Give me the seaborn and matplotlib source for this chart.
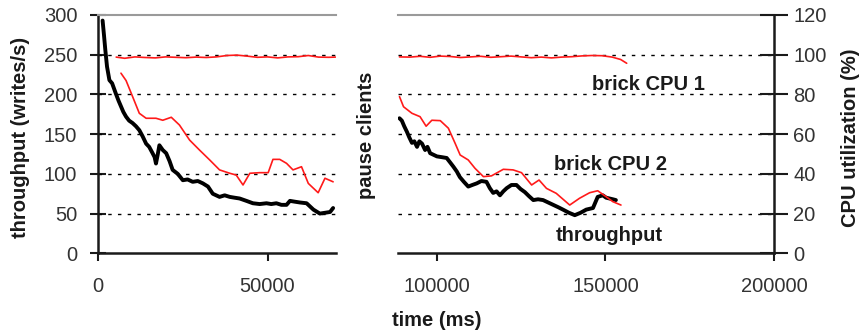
import matplotlib
matplotlib.use("Agg")
import matplotlib.pyplot as plt
import seaborn as sns
import pandas as pd

# ---------------- data ----------------
# throughput (writes/s), before pause
tp_time_a = [1500, 1900, 2300, 2800, 3500, 4300, 5400, 6200, 6900, 7600, 8400, 9300, 10300,
             11300, 12300, 13300, 14300, 15200, 16200, 16800, 17200, 17700, 18200, 19200,
             20200, 21200, 22100, 23600, 25100, 26500, 28000, 29500, 31000, 32500, 33900,
             35900, 37400, 38900, 40300, 41800, 43800, 45700, 47700, 49700, 51100, 52600,
             54100, 55600, 56600, 58000, 59500, 61500, 63500, 65400, 66900, 68400, 69300]
tp_val_a = [293, 275, 256, 235, 218, 214, 201, 192, 185, 178, 172, 167, 164,
            160, 155, 147, 138, 134, 126, 121, 113, 124, 136, 130,
            126, 116, 105, 100, 92, 93, 90, 91, 88, 84, 75,
            71, 73, 71, 70, 69, 66, 63, 62, 63, 62, 63,
            61, 61, 66, 65, 64, 63, 55, 50, 51, 52, 57]

# throughput (writes/s), after pause
tp_time_b = [88900, 89600, 90300, 91100, 91800, 92600, 93300, 94100, 94800, 95600, 96500,
             97200, 98000, 99000, 100000, 101500, 102900, 104000, 104900, 105900, 106800,
             108000, 109300, 110500, 111800, 113200, 114700, 115700, 116700, 117700, 118700,
             119700, 120700, 122100, 123600, 124800, 126100, 127300, 128600, 130000, 131500,
             133000, 134500, 136000, 137400, 139200, 140900, 142600, 144300, 146300, 147000,
             147700, 149200, 150200, 151200, 152200, 153100]
tp_val_b = [170, 167, 160, 153, 146, 139, 141, 134, 141, 138, 130,
            134, 126, 124, 122, 121, 120, 114, 109, 103, 96,
            90, 84, 86, 88, 91, 90, 82, 76, 78, 73,
            78, 82, 86, 86, 81, 77, 72, 67, 68, 67,
            64, 61, 58, 55, 51, 48, 51, 55, 57, 64,
            71, 73, 70, 69, 68, 67]

# brick CPU 1 (%)
cpu1_time_a = [5500, 8000, 11000, 14000, 17000, 20000, 23000, 26000, 29000, 32000, 35000,
               38000, 41000, 44000, 47000, 50000, 53000, 56000, 59000, 62000, 65000, 68000, 70000]
cpu1_val_a = [98.8, 98.2, 98.9, 98.6, 98.4, 98.9, 98.7, 98.5, 98.8, 98.6, 98.9,
              99.6, 99.8, 99.3, 98.7, 98.9, 98.4, 98.9, 99.0, 99.6, 98.8, 98.7, 98.8]
cpu1_time_b = [88900, 92000, 95000, 98000, 101000, 104000, 107000, 110000, 113000, 116000,
               119000, 122000, 125000, 128000, 131000, 134000, 137000, 140000, 143000,
               146000, 149000, 152000, 154500, 156300]
cpu1_val_b = [98.9, 98.8, 99.2, 98.7, 99.3, 99.1, 98.6, 98.9, 99.2, 98.7,
              99.0, 99.3, 98.9, 98.5, 98.8, 98.4, 98.8, 99.0, 99.4, 99.6,
              99.5, 98.8, 97.6, 95.7]

# brick CPU 2 (%)
cpu2_time_a = [6900, 8400, 10300, 12300, 14300, 17200, 19200, 21700, 24100, 27100, 30000,
               33000, 35900, 38900, 40800, 42800, 44800, 47700, 50200, 51600, 53600, 55600,
               57500, 60000, 62000, 64900, 66900, 69300]
cpu2_val_a = [90.7, 87.0, 79.0, 70.5, 68.0, 68.0, 67.0, 68.5, 64.6, 57.0, 52.0,
              47.0, 42.0, 40.3, 39.4, 34.4, 40.3, 40.6, 40.6, 47.3, 47.3, 45.3,
              42.0, 43.6, 35.2, 30.5, 37.8, 36.0]
cpu2_time_b = [88900, 90100, 92600, 95000, 96800, 98500, 101000, 103400, 105400, 106900,
               109300, 111300, 113800, 116200, 119700, 122600, 125100, 128100, 130300,
               132500, 135400, 139400, 142300, 145300, 147700, 150200, 152200, 154600]
cpu2_val_b = [78.9, 73.8, 70.5, 68.8, 64.0, 67.0, 66.8, 63.0, 55.4, 49.5,
              47.0, 42.8, 38.6, 39.0, 42.3, 42.0, 40.6, 34.4, 36.9,
              32.7, 30.2, 24.3, 27.7, 30.5, 31.5, 28.5, 26.0, 24.3]

tp_ticks = [0, 50, 100, 150, 200, 250, 300]
cpu_ticks = [0, 20, 40, 60, 80, 100, 120]
x_ticks_left = [0, 50000]
x_ticks_right = [100000, 150000, 200000]
xlim_left = (0, 70000)
xlim_right = (88400, 200000)

y_label = "throughput (writes/s)"
y2_label = "CPU utilization (%)"
x_label = "time (ms)"
gap_label = "pause clients"
series_labels = ["brick CPU 1", "brick CPU 2", "throughput"]

# ---------------- drawing ----------------
sns.set_style("white")
plt.rcParams["font.family"] = ["Liberation Sans", "DejaVu Sans"]

W, H = 868, 334
fig = plt.figure(figsize=(W / 100, H / 100), dpi=100)

def fx(px):
    return px / W

def fy(py):
    return 1 - py / H

y_top, y_bot = 15.0, 253.3
ax_l = fig.add_axes([fx(97.5), fy(y_bot), fx(335.5) - fx(97.5), (y_bot - y_top) / H])
ax_r = fig.add_axes([fx(397.8), fy(y_bot), fx(774) - fx(397.8), (y_bot - y_top) / H])
ax_l2 = ax_l.twinx()
ax_r2 = ax_r.twinx()

axis_col = "#1a1a1a"
tick_col = "#333333"
FS = 14.5

red = "#ff1a1a"
for ax, t_tp, v_tp in [(ax_l, tp_time_a, tp_val_a), (ax_r, tp_time_b, tp_val_b)]:
    ax.set_ylim(0, 300)
    for g in tp_ticks[1:-1]:
        ax.axhline(g, color="black", lw=1.0, ls=(0, (2.5, 4.5)), zorder=1)
    sns.lineplot(x=t_tp, y=v_tp, ax=ax, color="black", lw=2.8, estimator=None, sort=False, zorder=3)

for ax2, (t1, v1, t2, v2) in [(ax_l2, (cpu1_time_a, cpu1_val_a, cpu2_time_a, cpu2_val_a)),
                              (ax_r2, (cpu1_time_b, cpu1_val_b, cpu2_time_b, cpu2_val_b))]:
    ax2.set_ylim(0, 120)
    sns.lineplot(x=t1, y=v1, ax=ax2, color=red, lw=1.2, estimator=None, sort=False)
    sns.lineplot(x=t2, y=v2, ax=ax2, color=red, lw=1.2, estimator=None, sort=False)

ax_l.set_xlim(*xlim_left)
ax_r.set_xlim(*xlim_right)

# spines
for ax in (ax_l, ax_r, ax_l2, ax_r2):
    for s in ax.spines.values():
        s.set_visible(False)
    ax.set_xlabel("")
    ax.set_ylabel("")

for ax in (ax_l, ax_r):
    ax.spines["bottom"].set_visible(True)
    ax.spines["bottom"].set_color(axis_col)
    ax.spines["bottom"].set_linewidth(1.8)
    ax.spines["top"].set_visible(True)
    ax.spines["top"].set_color("#9a9a9a")
    ax.spines["top"].set_linewidth(1.5)

ax_l.spines["left"].set_visible(True)
ax_l.spines["left"].set_color(axis_col)
ax_l.spines["left"].set_linewidth(1.8)
ax_r2.spines["right"].set_visible(True)
ax_r2.spines["right"].set_color(axis_col)
ax_r2.spines["right"].set_linewidth(1.8)

# ticks
ax_l.set_yticks(tp_ticks)
ax_l.set_yticklabels([str(v) for v in tp_ticks])
ax_l.tick_params(axis="y", direction="inout", length=11, width=1.5, color=axis_col,
                 labelsize=FS, labelcolor=tick_col, pad=9)
ax_r.set_yticks([])
ax_l2.set_yticks([])
ax_r2.set_yticks(cpu_ticks)
ax_r2.set_yticklabels([str(v) for v in cpu_ticks])
ax_r2.tick_params(axis="y", direction="inout", length=20, width=1.5, color=axis_col,
                  labelsize=FS, labelcolor=tick_col, pad=4)

ax_l.set_xticks(x_ticks_left)
ax_l.set_xticklabels([str(v) for v in x_ticks_left])
ax_r.set_xticks(x_ticks_right)
ax_r.set_xticklabels([str(v) for v in x_ticks_right])
for ax in (ax_l, ax_r):
    ax.tick_params(axis="x", direction="out", length=6, width=1.5, color=axis_col,
                   labelsize=FS, labelcolor=tick_col, pad=11, bottom=True, labelbottom=True)
ax_l.set_xlim(*xlim_left)
ax_r.set_xlim(*xlim_right)

# labels
lab_kw = dict(fontsize=14.5, fontweight="bold", color="#1a1a1a", ha="center", va="center")
fig.text(fx(20.5), fy(137), y_label, rotation=90, **lab_kw)
fig.text(fx(367), fy(135), gap_label, rotation=90, **lab_kw)
fig.text(fx(850), fy(138), y2_label, rotation=90, **lab_kw)
fig.text(fx(437), fy(321), x_label, **lab_kw)

ann_kw = dict(fontsize=14.5, fontweight="bold", color="#1a1a1a", ha="center", va="baseline")
ax_r2.text(162800, 82.2, series_labels[0], **ann_kw)
ax_r2.text(151600, 41.9, series_labels[1], **ann_kw)
ax_r2.text(151100, 6.3, series_labels[2], **ann_kw)

fig.savefig("out.png", dpi=100)
